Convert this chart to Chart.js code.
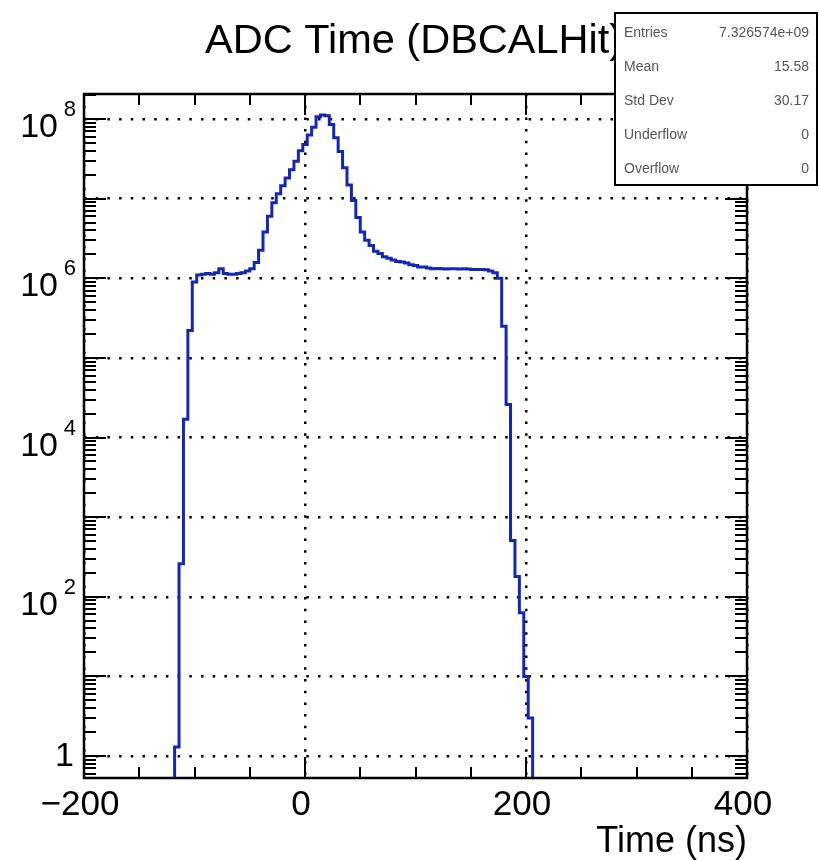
<!DOCTYPE html>
<html>
<head>
<meta charset="utf-8">
<script src="https://cdn.jsdelivr.net/npm/chart.js@4"></script>
<style>
  html, body { margin: 0; padding: 0; background: #fff; }
  #wrap { width: 819px; height: 860px; position: relative; }
</style>
</head>
<body>
<div id="wrap"><canvas id="chart-adc"></canvas></div>
<script>
// histogram: 4 ns bins starting at -118 ns
const binStart = -118;
const binWidth = 4;
const counts = [
  1.3, 260, 1.7e4, 2.2e5, 9.0e5, 1.10e6, 1.12e6, 1.15e6, 1.12e6, 1.17e6,
  1.32e6, 1.15e6, 1.12e6, 1.12e6, 1.15e6, 1.17e6, 1.23e6, 1.32e6, 1.58e6, 2.24e6,
  3.8e6, 6.0e6, 8.9e6, 1.15e7, 1.45e7, 1.82e7, 2.3e7, 2.95e7, 4.0e7, 4.8e7,
  6.3e7, 7.9e7, 1.07e8, 1.12e8, 1.10e8, 8.5e7, 5.8e7, 3.9e7, 2.45e7, 1.48e7,
  9.5e6, 5.8e6, 3.8e6, 3.0e6, 2.57e6, 2.19e6, 2.04e6, 1.86e6, 1.78e6, 1.70e6,
  1.62e6, 1.60e6, 1.55e6, 1.48e6, 1.45e6, 1.38e6, 1.38e6, 1.35e6, 1.32e6, 1.33e6,
  1.32e6, 1.31e6, 1.32e6, 1.32e6, 1.31e6, 1.32e6, 1.31e6, 1.29e6, 1.29e6, 1.29e6,
  1.28e6, 1.23e6, 1.17e6, 1.0e6, 2.5e5, 2.6e4, 510, 180, 63, 10,
  3
];

const xTickValues = [-200, 0, 200, 400];
const xTickLabels = ['\u2212200', '0', '200', '400'];
const yGridValues = [1, 10, 1e2, 1e3, 1e4, 1e5, 1e6, 1e7, 1e8];
const yLabelValues = [1, 1e2, 1e4, 1e6, 1e8];
const yLabelExps = ['', '2', '4', '6', '8'];

const statNames = ['Entries', 'Mean', 'Std Dev', 'Underflow', 'Overflow'];
const statValues = ['7.326574e+09', '15.58', '30.17', '0', '0'];

const titleText = 'ADC Time (DBCALHit)';
const xTitle = 'Time (ns)';

const FONT = '"Liberation Sans", Arial, Helvetica, sans-serif';

// step outline, dropping below the axis at both ends
const points = [{ x: binStart, y: 0.1 }];
counts.forEach((c, i) => points.push({ x: binStart + i * binWidth, y: c }));
points.push({ x: binStart + counts.length * binWidth, y: 0.1 });

const rootDecor = {
  id: 'rootDecor',
  afterDraw(chart) {
    const ctx = chart.ctx;
    const { left, right, top, bottom } = chart.chartArea;
    const xs = chart.scales.x;
    const ys = chart.scales.y;
    ctx.save();
    ctx.strokeStyle = '#000';
    ctx.fillStyle = '#000';
    ctx.lineWidth = 2;

    // x ticks, top and bottom, pointing inward
    ctx.beginPath();
    for (let v = -200; v <= 400; v += 50) {
      const px = Math.round(xs.getPixelForValue(v));
      const len = xTickValues.includes(v) ? 21 : 11;
      ctx.moveTo(px, bottom); ctx.lineTo(px, bottom - len);
      ctx.moveTo(px, top); ctx.lineTo(px, top + len);
    }
    // y ticks, left and right
    for (let n = -1; n <= 8; n++) {
      for (let m = 1; m <= 9; m++) {
        const v = m * Math.pow(10, n);
        if (v < ys.min || v > ys.max) continue;
        const py = Math.round(ys.getPixelForValue(v));
        const len = m === 1 ? 22 : 12;
        ctx.moveTo(left, py); ctx.lineTo(left + len, py);
        ctx.moveTo(right, py); ctx.lineTo(right - len, py);
      }
    }
    ctx.stroke();

    // frame
    ctx.lineWidth = 2.5;
    ctx.strokeRect(left, top, right - left, bottom - top);

    // x labels
    ctx.font = '35px ' + FONT;
    ctx.textAlign = 'center';
    ctx.textBaseline = 'alphabetic';
    xTickValues.forEach((v, i) => {
      ctx.fillText(xTickLabels[i], xs.getPixelForValue(v) - 4, 815);
    });

    // y labels with superscript exponents
    yLabelValues.forEach((v, i) => {
      const py = ys.getPixelForValue(v);
      const exp = yLabelExps[i];
      ctx.textAlign = 'right';
      if (exp === '') {
        ctx.font = '34px ' + FONT;
        ctx.fillText('1', 74, py + 10);
      } else {
        ctx.font = '22px ' + FONT;
        ctx.fillText(exp, 76, py - 3);
        ctx.font = '34px ' + FONT;
        ctx.fillText('10', 58, py + 18);
      }
    });

    // axis title
    ctx.font = '36px ' + FONT;
    ctx.textAlign = 'right';
    ctx.fillText(xTitle, 747, 852);

    // title (the stats box covers its tail)
    ctx.font = '41.5px ' + FONT;
    ctx.textAlign = 'left';
    ctx.fillText(titleText, 205, 53);

    // stats box
    ctx.fillStyle = '#fff';
    ctx.fillRect(615, 13, 202, 172);
    ctx.lineWidth = 2;
    ctx.strokeRect(615, 13, 202, 172);
    ctx.fillStyle = '#555';
    ctx.font = '14px ' + FONT;
    ctx.textBaseline = 'middle';
    statNames.forEach((name, i) => {
      const ry = 33 + i * 34;
      ctx.textAlign = 'left';
      ctx.fillText(name, 624, ry);
      ctx.textAlign = 'right';
      ctx.fillText(statValues[i], 809, ry);
    });

    ctx.restore();
  }
};

new Chart(document.getElementById('chart-adc'), {
  type: 'line',
  data: {
    datasets: [{
      data: points,
      borderColor: '#1228b0',
      borderWidth: 3,
      stepped: 'before',
      fill: false,
      pointRadius: 0,
      tension: 0
    }]
  },
  options: {
    responsive: true,
    maintainAspectRatio: false,
    animation: false,
    events: [],
    layout: { padding: { left: 84, right: 72, top: 94, bottom: 82 } },
    scales: {
      x: {
        type: 'linear',
        min: -200,
        max: 400,
        afterBuildTicks: (axis) => { axis.ticks = xTickValues.map(v => ({ value: v })); },
        afterFit: (axis) => { axis.height = 0; },
        ticks: { display: false },
        grid: { color: '#000', lineWidth: 2.5, drawTicks: false },
        border: { display: false, dash: [2.5, 9.2] }
      },
      y: {
        type: 'logarithmic',
        min: 0.53,
        max: 2.06e8,
        afterBuildTicks: (axis) => { axis.ticks = yGridValues.map(v => ({ value: v })); },
        afterFit: (axis) => { axis.width = 0; },
        ticks: { display: false },
        grid: { color: '#000', lineWidth: 2.5, drawTicks: false },
        border: { display: false, dash: [2.5, 9.2] }
      }
    },
    plugins: {
      legend: { display: false },
      tooltip: { enabled: false },
      title: { display: false }
    }
  },
  plugins: [rootDecor]
});
</script>
</body>
</html>
